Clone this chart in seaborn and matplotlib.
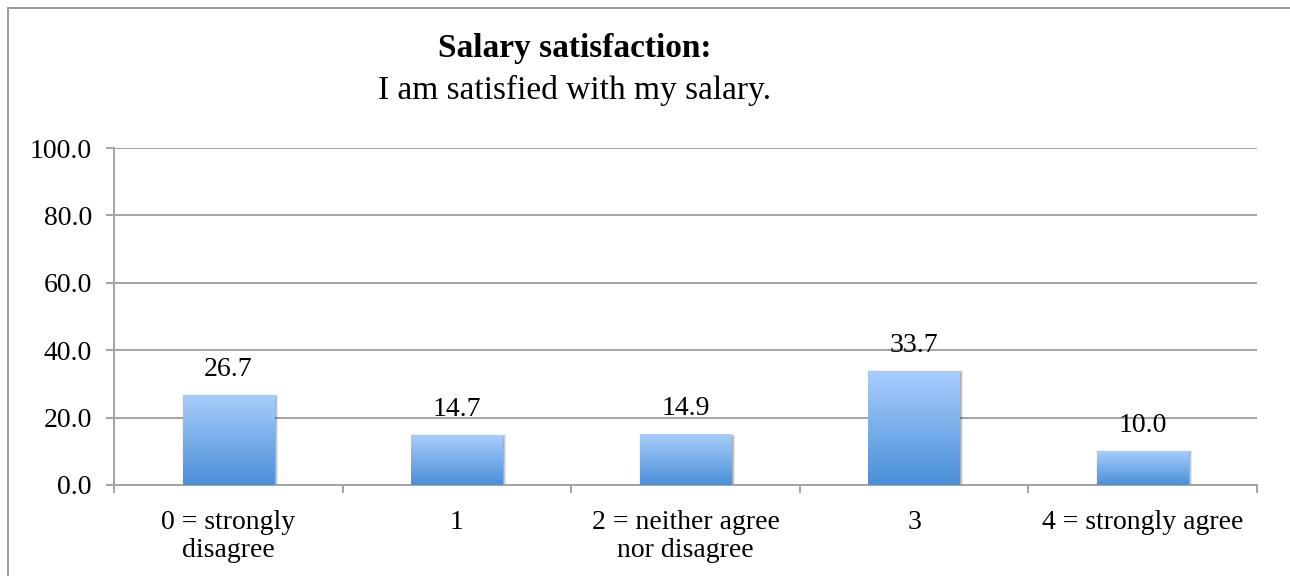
import numpy as np
import matplotlib
matplotlib.use("Agg")
import matplotlib.pyplot as plt
import matplotlib.transforms as mtransforms
from matplotlib.colors import LinearSegmentedColormap
from matplotlib.patches import Rectangle
from matplotlib.lines import Line2D
import seaborn as sns
import pandas as pd

# Survey data
categories = ["0 = strongly\ndisagree", "1", "2 = neither agree\nnor disagree", "3", "4 = strongly agree"]
percentages = [26.7, 14.7, 14.9, 33.7, 10.0]
y_ticks = [0, 20, 40, 60, 80, 100]
title_main = "Salary satisfaction:"
title_sub = "I am satisfied with my salary."

sns.set_theme(style="white")
plt.rcParams["font.family"] = ["Liberation Serif", "DejaVu Serif"]
plt.rcParams["text.color"] = "black"
plt.rcParams["xtick.color"] = "black"
plt.rcParams["ytick.color"] = "black"

W, H = 1290, 576
fig = plt.figure(figsize=(W / 100, H / 100), dpi=100)
ax = fig.add_axes([114 / W, 1 - 485 / H, (1257 - 114) / W, (485 - 148) / H])

df = pd.DataFrame({"category": categories, "value": percentages})
sns.barplot(data=df, x="category", y="value", ax=ax, width=0.4,
            color="#78AEEA", saturation=1, zorder=3)

# Vertical gradient fill with a soft drop shadow for each bar
cmap = LinearSegmentedColormap.from_list("barfill", ["#4A8FD8", "#A9CDFC"])
grad = np.linspace(0, 1, 256).reshape(-1, 1)
for patch in list(ax.patches):
    x0, y0 = patch.get_x(), patch.get_y()
    w, h = patch.get_width(), patch.get_height()
    patch.set_facecolor("none")
    patch.set_edgecolor("none")
    tr = mtransforms.offset_copy(ax.transData, fig=fig, x=1.5, y=-1.0, units="dots")
    for k, a in [(4, 0.05), (3, 0.06), (2, 0.08)]:
        sh = Rectangle((x0, y0), w, h, transform=tr, facecolor="black",
                       edgecolor="black", linewidth=k * 0.7, alpha=a, zorder=2)
        ax.add_patch(sh)
    ax.imshow(grad, cmap=cmap, extent=[x0, x0 + w, y0, y0 + h], origin="lower",
              aspect="auto", zorder=3, interpolation="bicubic")

ax.set_xlim(-0.5, len(categories) - 0.5)
ax.set_ylim(0, 100)
ax.set_xlabel("")
ax.set_ylabel("")

grid_c = "#A3A3A3"
ax.set_yticks(y_ticks)
ax.set_yticklabels([f"{v:.1f}" for v in y_ticks], fontsize=20, color="black")
ax.yaxis.grid(True, color=grid_c, linewidth=1.4)
ax.set_axisbelow(True)

ax.set_xticks(range(len(categories)))
ax.set_xticklabels(categories, fontsize=20, linespacing=1.15, color="black")
ax.set_xticks(np.arange(-0.5, len(categories), 1), minor=True)
ax.tick_params(axis="x", which="major", length=0, pad=18)
ax.tick_params(axis="x", which="minor", bottom=True, length=6, width=1.4, color=grid_c)
ax.tick_params(axis="y", which="major", left=True, length=6, width=1.4, color=grid_c, pad=10)

for side in ["top", "right"]:
    ax.spines[side].set_visible(False)
for side in ["left", "bottom"]:
    ax.spines[side].set_color(grid_c)
    ax.spines[side].set_linewidth(1.4)

# Value labels above bars
for i, v in enumerate(percentages):
    ax.annotate(f"{v:.1f}", (i, v), xytext=(0, 14), textcoords="offset points",
                ha="center", va="baseline", fontsize=20, color="black", zorder=5)

# Titles
fig.text(575 / W, 1 - 48 / H, title_main, ha="center", va="center",
         fontsize=24, fontweight="bold", color="black")
fig.text(575 / W, 1 - 90 / H, title_sub, ha="center", va="center", fontsize=24,
         color="black")

# Chart frame
fig.add_artist(Line2D([7.5 / W, 7.5 / W], [0, 1 - 7.5 / H], color="#9A9A9A", lw=1.4,
                      transform=fig.transFigure))
fig.add_artist(Line2D([7.5 / W, 1], [1 - 7.5 / H, 1 - 7.5 / H], color="#9A9A9A", lw=1.4,
                      transform=fig.transFigure))

fig.savefig("out.png", dpi=100)
